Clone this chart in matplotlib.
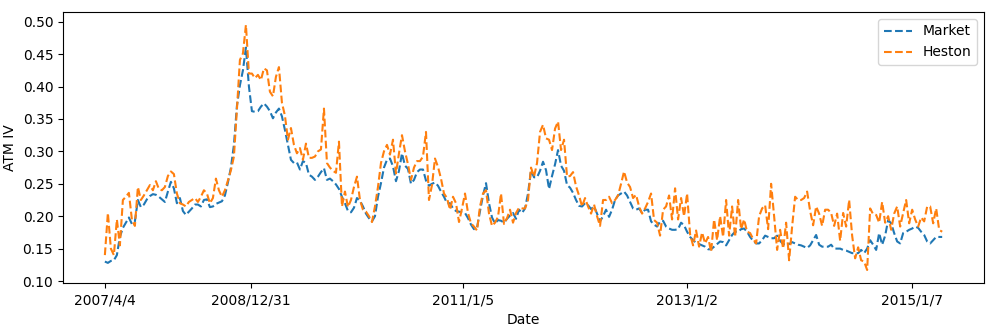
import matplotlib
matplotlib.use("Agg")
import matplotlib.pyplot as plt
import numpy as np

market = [
    0.130, 0.128, 0.131, 0.132, 0.140, 0.168, 0.182, 0.190, 0.198, 0.188,
    0.192, 0.225, 0.214, 0.218, 0.226, 0.231, 0.234, 0.233, 0.230, 0.226,
    0.222, 0.238, 0.253, 0.243, 0.220, 0.228, 0.208, 0.202, 0.207, 0.212,
    0.218, 0.218, 0.215, 0.225, 0.226, 0.214, 0.215, 0.219, 0.221, 0.223,
    0.232, 0.252, 0.275, 0.310, 0.370, 0.402, 0.425, 0.460, 0.400, 0.362,
    0.361, 0.362, 0.369, 0.374, 0.369, 0.362, 0.351, 0.360, 0.366, 0.354,
    0.333, 0.310, 0.287, 0.282, 0.283, 0.272, 0.285, 0.282, 0.264, 0.261,
    0.256, 0.261, 0.268, 0.274, 0.256, 0.258, 0.254, 0.249, 0.242, 0.230,
    0.220, 0.208, 0.206, 0.213, 0.228, 0.224, 0.215, 0.204, 0.197, 0.192,
    0.200, 0.230, 0.251, 0.275, 0.287, 0.289, 0.277, 0.254, 0.270, 0.297,
    0.278, 0.273, 0.250, 0.256, 0.268, 0.272, 0.272, 0.255, 0.247, 0.250,
    0.252, 0.247, 0.238, 0.230, 0.220, 0.220, 0.212, 0.208, 0.207, 0.206,
    0.205, 0.197, 0.187, 0.180, 0.182, 0.208, 0.232, 0.251, 0.220, 0.198,
    0.189, 0.194, 0.193, 0.190, 0.196, 0.201, 0.205, 0.196, 0.210, 0.205,
    0.212, 0.235, 0.271, 0.260, 0.260, 0.270, 0.284, 0.271, 0.242, 0.262,
    0.280, 0.302, 0.278, 0.270, 0.248, 0.244, 0.236, 0.225, 0.216, 0.215,
    0.220, 0.217, 0.211, 0.215, 0.204, 0.192, 0.200, 0.210, 0.199, 0.210,
    0.225, 0.232, 0.235, 0.238, 0.232, 0.222, 0.212, 0.210, 0.212, 0.205,
    0.210, 0.210, 0.192, 0.187, 0.184, 0.192, 0.193, 0.184, 0.181, 0.179,
    0.179, 0.180, 0.190, 0.186, 0.176, 0.168, 0.163, 0.159, 0.157, 0.155,
    0.153, 0.149, 0.149, 0.153, 0.157, 0.161, 0.160, 0.155, 0.163, 0.171,
    0.176, 0.176, 0.180, 0.181, 0.176, 0.168, 0.162, 0.158, 0.158, 0.163,
    0.170, 0.168, 0.166, 0.166, 0.170, 0.162, 0.157, 0.156, 0.157, 0.160,
    0.158, 0.156, 0.155, 0.153, 0.151, 0.155, 0.163, 0.171, 0.156, 0.153,
    0.153, 0.153, 0.156, 0.150, 0.150, 0.150, 0.148, 0.147, 0.145, 0.143,
    0.143, 0.143, 0.148, 0.143, 0.150, 0.163, 0.156, 0.148, 0.174, 0.156,
    0.170, 0.194, 0.189, 0.174, 0.161, 0.158, 0.174, 0.176, 0.179, 0.181,
    0.184, 0.182, 0.176, 0.171, 0.161, 0.158, 0.163, 0.168, 0.168, 0.168,
]

heston = [
    0.140, 0.205, 0.150, 0.140, 0.195, 0.155, 0.225, 0.230, 0.236, 0.195,
    0.185, 0.245, 0.225, 0.232, 0.240, 0.248, 0.240, 0.254, 0.242, 0.240,
    0.245, 0.262, 0.269, 0.265, 0.235, 0.220, 0.218, 0.215, 0.222, 0.225,
    0.228, 0.222, 0.230, 0.240, 0.235, 0.220, 0.228, 0.258, 0.240, 0.230,
    0.240, 0.255, 0.271, 0.292, 0.365, 0.441, 0.451, 0.495, 0.420, 0.420,
    0.413, 0.418, 0.410, 0.428, 0.425, 0.392, 0.385, 0.415, 0.430, 0.375,
    0.355, 0.318, 0.336, 0.310, 0.297, 0.305, 0.287, 0.312, 0.290, 0.290,
    0.292, 0.300, 0.303, 0.366, 0.282, 0.275, 0.270, 0.267, 0.315, 0.215,
    0.238, 0.214, 0.225, 0.245, 0.261, 0.225, 0.210, 0.207, 0.200, 0.191,
    0.215, 0.245, 0.282, 0.300, 0.310, 0.295, 0.318, 0.266, 0.297, 0.325,
    0.300, 0.280, 0.256, 0.275, 0.285, 0.285, 0.292, 0.330, 0.225, 0.248,
    0.289, 0.276, 0.258, 0.235, 0.228, 0.210, 0.230, 0.220, 0.191, 0.212,
    0.235, 0.205, 0.189, 0.184, 0.178, 0.215, 0.235, 0.240, 0.204, 0.185,
    0.190, 0.199, 0.235, 0.188, 0.197, 0.210, 0.190, 0.205, 0.213, 0.212,
    0.212, 0.225, 0.275, 0.261, 0.282, 0.330, 0.341, 0.320, 0.318, 0.302,
    0.335, 0.346, 0.302, 0.318, 0.261, 0.262, 0.268, 0.246, 0.232, 0.215,
    0.228, 0.215, 0.204, 0.218, 0.200, 0.185, 0.225, 0.225, 0.230, 0.220,
    0.225, 0.232, 0.250, 0.269, 0.252, 0.245, 0.228, 0.233, 0.215, 0.204,
    0.212, 0.222, 0.235, 0.194, 0.190, 0.170, 0.210, 0.215, 0.232, 0.195,
    0.243, 0.195, 0.228, 0.200, 0.235, 0.172, 0.155, 0.178, 0.153, 0.175,
    0.158, 0.168, 0.145, 0.195, 0.163, 0.200, 0.168, 0.225, 0.170, 0.215,
    0.168, 0.225, 0.180, 0.195, 0.176, 0.174, 0.165, 0.158, 0.200, 0.212,
    0.217, 0.180, 0.250, 0.200, 0.148, 0.179, 0.150, 0.190, 0.132, 0.184,
    0.230, 0.225, 0.225, 0.228, 0.238, 0.208, 0.186, 0.215, 0.204, 0.185,
    0.210, 0.210, 0.205, 0.185, 0.204, 0.162, 0.205, 0.184, 0.225, 0.170,
    0.135, 0.152, 0.132, 0.130, 0.117, 0.212, 0.203, 0.202, 0.190, 0.222,
    0.190, 0.200, 0.179, 0.204, 0.215, 0.184, 0.205, 0.225, 0.189, 0.210,
    0.195, 0.184, 0.198, 0.192, 0.215, 0.215, 0.189, 0.212, 0.179, 0.176,
]

tick_labels = ["2007/4/4", "2008/12/31", "2011/1/5", "2013/1/2", "2015/1/7"]
tick_index = [0, 48.7, 119.3, 194, 269]

fig = plt.figure(figsize=(9.97, 3.32), dpi=100)
ax = fig.add_axes([0.0632, 0.1467, 0.987 - 0.0632, 0.9639 - 0.1467])
x = np.arange(len(market))
ax.plot(x, market, linestyle="--", color="C0", label="Market")
ax.plot(x, heston, linestyle="--", color="C1", label="Heston")
ax.set_xticks(tick_index)
ax.set_xticklabels(tick_labels)
ax.set_ylim(0.0965, 0.515)
ax.set_yticks([0.10, 0.15, 0.20, 0.25, 0.30, 0.35, 0.40, 0.45, 0.50])
ax.set_yticklabels(["0.10", "0.15", "0.20", "0.25", "0.30", "0.35", "0.40", "0.45", "0.50"])
ax.set_xlabel("Date")
ax.set_ylabel("ATM IV")
ax.legend(loc="upper right")
fig.savefig("out.png", dpi=100)
